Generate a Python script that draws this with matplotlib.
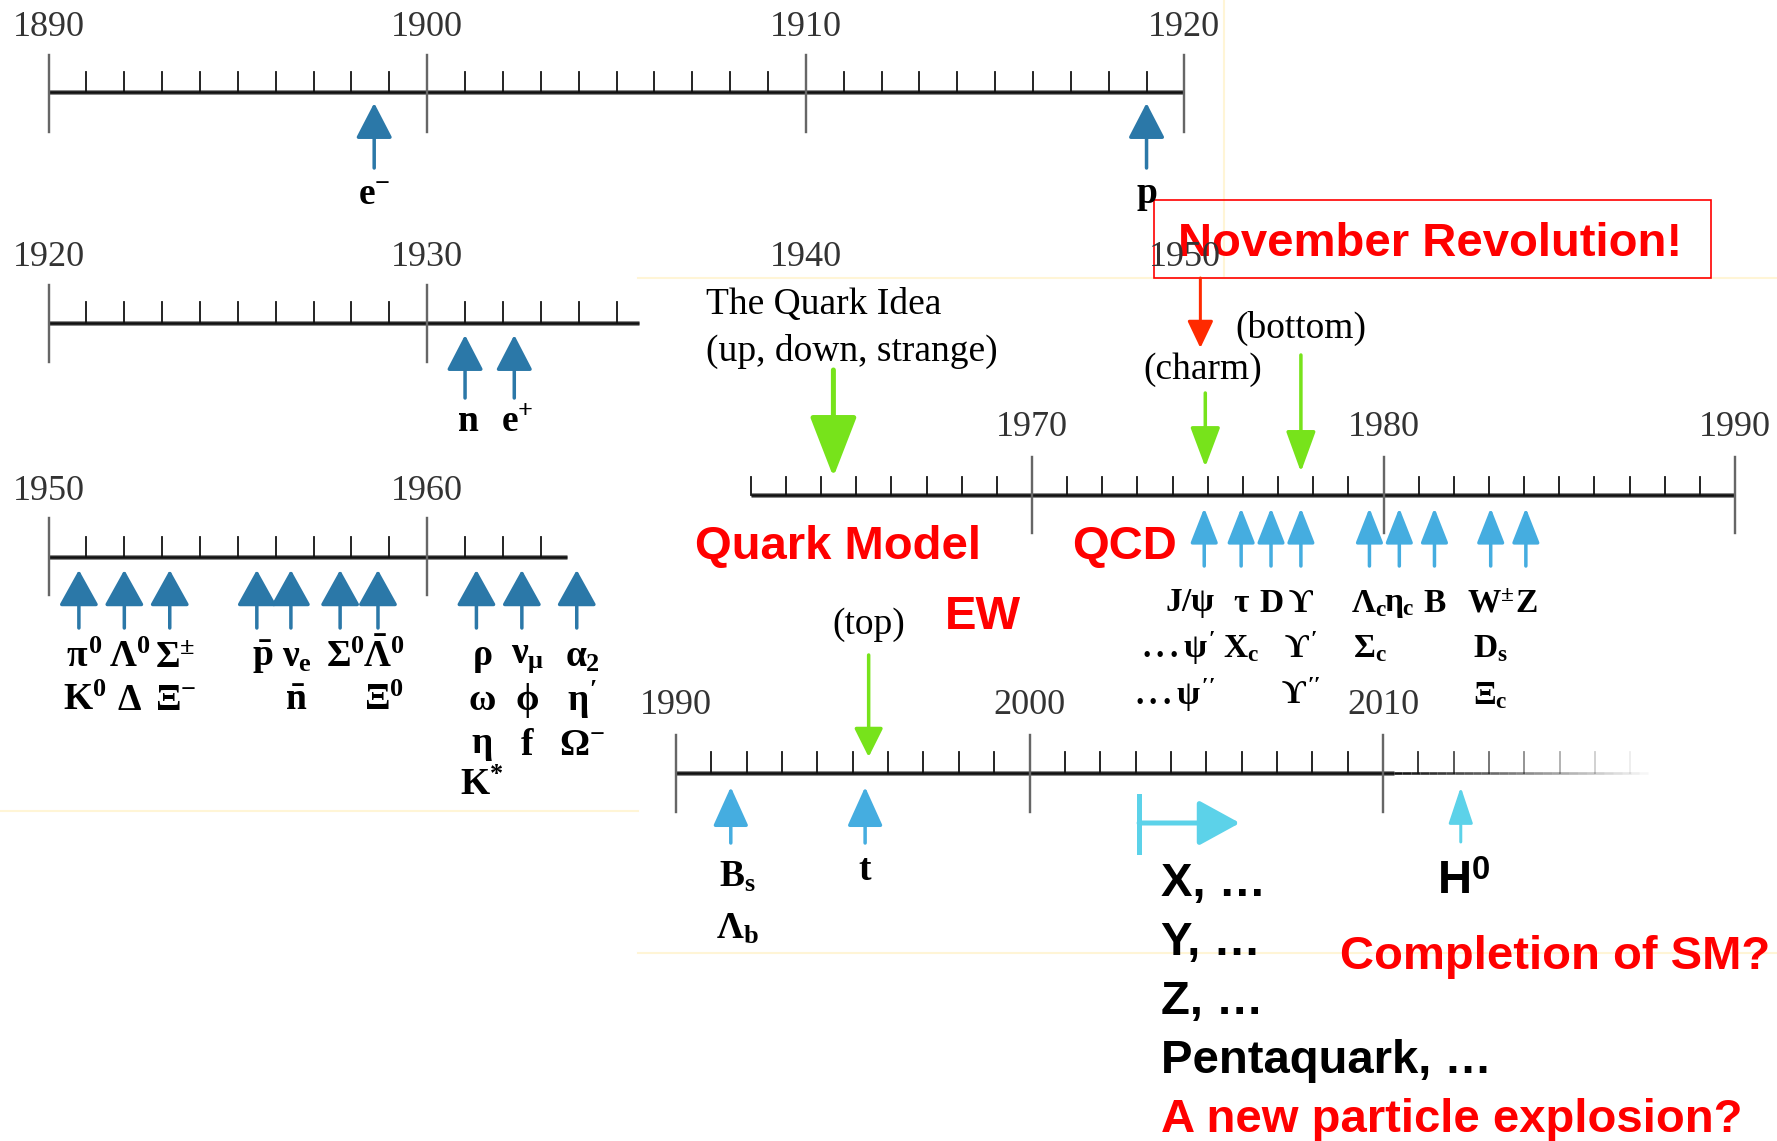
import matplotlib
matplotlib.use('Agg')
import matplotlib.pyplot as plt
import numpy as np
from matplotlib.patches import Rectangle

W, H = 1777, 1141

plt.rcParams['mathtext.fontset'] = 'custom'
plt.rcParams['mathtext.rm'] = 'Liberation Serif:bold'
plt.rcParams['mathtext.it'] = 'Liberation Serif:bold'
plt.rcParams['mathtext.bf'] = 'Liberation Serif:bold'
plt.rcParams['mathtext.sf'] = 'Liberation Sans:bold'
plt.rcParams['mathtext.fallback'] = 'stix'

# ---- data: discovery years ----
t1_years = [1898.6, 1919.0]
t1_names = [[r'$\mathrm{e}^{-}$'], [r'$\mathrm{p}$']]

t2_years = [1931.0, 1932.3]
t2_names = [[r'$\mathrm{n}$'], [r'$\mathrm{e}^{+}$']]

t3_years = [1950.8, 1952.0, 1953.2, 1955.5, 1956.4, 1957.7, 1958.7, 1961.3, 1962.5, 1963.95]
t3_names = [[r'$\pi^0$', r'$\mathrm{K}^0$'],
            [r'$\Lambda^0$', r'$\Delta$'],
            [r'$\Sigma^{\pm}$', r'$\Xi^{-}$'],
            [r'$\bar{\mathrm{p}}$'],
            [r'$\nu_e$', r'$\bar{\mathrm{n}}$'],
            [r'$\Sigma^0$'],
            [r'$\bar{\Lambda}^0$', r'$\Xi^0$'],
            [r'$\rho$', r'$\omega$', r'$\eta$', r'$\mathrm{K}^{*}$'],
            [r'$\nu_{\mu}$', r'$\phi$', r'$\mathrm{f}$'],
            [r'$\alpha_2$', r"$\eta'$", r'$\Omega^{-}$']]

t4_years = [1974.9, 1975.95, 1976.8, 1977.65, 1979.6, 1980.45, 1981.45, 1983.05, 1984.05]
t4_names = [[r'$\mathrm{J}/\psi$', r"$...\psi'$", r"$...\psi''$"],
            [r'$\tau$', r'$\mathrm{X}_c$'],
            [r'$\mathrm{D}$'],
            [r'$ϒ$', r"$ϒ'$", r"$ϒ''$"],
            [r'$\Lambda_c$', r'$\Sigma_c$'],
            [r'$\eta_c$'],
            [r'$\mathrm{B}$'],
            [r'$\mathrm{W}^{\pm}$', r'$\mathrm{D}_s$', r'$\Xi_c$'],
            [r'$\mathrm{Z}$']]

quark_years = [1964.35, 1974.93, 1977.65]
quark_names = ['The Quark Idea\n(up, down, strange)', '(charm)', '(bottom)']

t5_years = [1991.55, 1995.35]
t5_names = [[r'$\mathrm{B}_s$', r'$\Lambda_b$'], [r'$\mathrm{t}$']]
top_year = 1995.45
higgs_year = 2012.2
exotic_year = 2003.1
exotic_names = ['X, …', 'Y, …', 'Z, …', 'Pentaquark, …']

# ---- styles ----
OLD_BLUE = '#2B78A8'
NEW_BLUE = '#45ADE0'
CYAN = '#5CD2E9'
GREEN = '#77E31B'
RED = '#FF0000'
SERIF = 'Liberation Serif'
SANS = 'Liberation Sans'
PT = 0.72  # points per pixel at dpi 100

fig = plt.figure(figsize=(W / 100, H / 100), dpi=100)
bg = fig.add_axes([0, 0, 1, 1])
bg.set_xlim(0, W)
bg.set_ylim(H, 0)
bg.axis('off')

# faint slide panel edges
pc = '#FFF5D6'
bg.plot([0, 638], [811, 811], color=pc, lw=1.5)
bg.plot([638, W], [278, 278], color=pc, lw=1.5)
bg.plot([638, W], [953, 953], color=pc, lw=1.5)
bg.plot([1224, 1224], [0, 278], color=pc, lw=1.5)


def timeline_axes(px0, px1, yr0, yr1):
    ax = fig.add_axes([px0 / W, 0, (px1 - px0) / W, 1])
    ax.set_xlim(yr0, yr1)
    ax.set_ylim(H, 0)
    ax.axis('off')
    ax.patch.set_visible(False)
    return ax


def draw_axis(ax, start, end, y, maj_top, maj_bot, min_top, majors, label_y, fade_from=None):
    stop = end if fade_from is None else fade_from
    ax.plot([start, stop], [y, y], color='#888', lw=5 * PT, clip_on=False, solid_capstyle='butt')
    ax.plot([start, stop], [y, y], color='#111', lw=2.6 * PT, clip_on=False, solid_capstyle='butt')
    minors = [v for v in range(int(np.ceil(start)), int(np.floor(end)) + 1) if v % 10]
    for v in minors:
        a = 1.0
        if fade_from is not None and v > fade_from:
            a = max(0.08, 1 - (v - fade_from) / (end - fade_from))
        ax.plot([v, v], [min_top, y], color='#111', lw=1.8 * PT, alpha=a, clip_on=False)
    if fade_from is not None:
        segs = np.linspace(fade_from, end, 30)
        for i in range(len(segs) - 1):
            a = 1 - i / (len(segs) - 1)
            ax.plot(segs[i:i + 2], [y, y], color='#111', lw=2.6 * PT, alpha=a,
                    clip_on=False, solid_capstyle='butt')
    for m in majors:
        ax.plot([m, m], [maj_top, maj_bot], color='#666', lw=2.4 * PT, clip_on=False)
        col = '#999' if (fade_from is not None and m >= fade_from) else '#333'
        ax.text(m, label_y, str(m), ha='center', va='center', fontsize=26,
                family=SERIF, color=col, clip_on=False)


def arrow(ax, x0, y0, x1, y1, color, head_len, head_half, shaft):
    d = np.hypot(head_len, head_half)
    style = f'-|>,head_length={d * PT:.2f},head_width={head_half / head_len * d * PT:.2f}'
    ax.annotate('', xy=(x1, y1), xytext=(x0, y0), annotation_clip=False,
                arrowprops=dict(arrowstyle=style, color=color, lw=shaft * PT,
                                shrinkA=0, shrinkB=0, mutation_scale=1))


def labels(ax, x, names, rows, size=27, dx=0, ha='center'):
    for name, ry in zip(names, rows):
        ax.annotate(name, xy=(x, ry), xytext=(dx, 0), textcoords='offset points',
                    ha=ha, va='center', fontsize=size, annotation_clip=False)


# ---- timeline 1890-1920 ----
ax1 = timeline_axes(48.6, 1184.4, 1890, 1920)
draw_axis(ax1, 1890, 1920, 92, 55, 132, 72, [1890, 1900, 1910, 1920], 28)
for yr, nm in zip(t1_years, t1_names):
    arrow(ax1, yr, 168, yr, 103, OLD_BLUE, 27, 14, 3.5)
    labels(ax1, yr, nm, [195])

# ---- timeline 1920-1935 ----
ax2 = timeline_axes(48.6, 1184.4, 1920, 1950)
draw_axis(ax2, 1920, 1935.6, 323, 285, 362, 302, [1920, 1930], 258)
for m in [1940, 1950]:
    ax2.text(m, 258, str(m), ha='center', va='center', fontsize=26, family=SERIF,
             color='#333', zorder=1)
for yr, nm in zip(t2_years, t2_names):
    arrow(ax2, yr, 398, yr, 335, OLD_BLUE, 27, 14, 3.5)
    labels(ax2, yr, nm, [421], dx=2)

# ---- timeline 1950-1963 ----
ax3 = timeline_axes(48.6, 1184.4, 1950, 1980)
draw_axis(ax3, 1950, 1963.7, 557, 518, 595, 537, [1950, 1960], 492)
for yr, nm in zip(t3_years, t3_names):
    arrow(ax3, yr, 628, yr, 570, OLD_BLUE, 27, 15, 3.5)
    labels(ax3, yr, nm, [657, 700, 745, 785], dx=4)

# ---- timeline 1962-1990 ----
ax4 = timeline_axes(680.5, 1735, 1960, 1990)
draw_axis(ax4, 1962, 1990, 495, 457, 533, 477, [1970, 1980, 1990], 428)
for i, (yr, nm) in enumerate(zip(t4_years, t4_names)):
    arrow(ax4, yr, 566, yr, 508, NEW_BLUE, 28, 11, 3.5)
    if i == 0:
        labels(ax4, yr, nm, [603, 648, 695], size=24, dx=8, ha='right')
    else:
        labels(ax4, yr, nm, [603, 648, 695], size=24)

# quark ideas (green, pointing down)
arrow(ax4, quark_years[0], 370, quark_years[0], 477, GREEN, 49, 19, 5)
arrow(ax4, quark_years[1], 393, quark_years[1], 467, GREEN, 32, 12, 3.5)
arrow(ax4, quark_years[2], 355, quark_years[2], 472, GREEN, 33, 12, 3.5)
ax4.annotate(quark_names[0], xy=(quark_years[0], 328), xytext=(-92, 0),
             textcoords='offset points', ha='left', va='center', fontsize=27,
             family=SERIF, linespacing=1.45, annotation_clip=False)
ax4.annotate(quark_names[1], xy=(quark_years[1], 370), xytext=(-2, 0),
             textcoords='offset points', ha='center', va='center', fontsize=27,
             family=SERIF, annotation_clip=False)
ax4.annotate(quark_names[2], xy=(quark_years[2], 328), ha='center', va='center',
             fontsize=27, family=SERIF, annotation_clip=False)

# November Revolution
bg.add_patch(Rectangle((1154, 200), 557, 78, fill=False, edgecolor=RED, lw=1.2, zorder=5))
bg.text(1430, 244, 'November Revolution!', ha='center', va='center', fontsize=34,
        family=SANS, weight='bold', color=RED, zorder=6)
arrow(ax4, quark_years[1] - 0.14, 278, quark_years[1] - 0.14, 348, '#FF2A00', 21, 10, 3)

bg.text(695, 547, 'Quark Model', ha='left', va='center', fontsize=34, family=SANS,
        weight='bold', color=RED)
bg.text(1072, 547, 'QCD', ha='left', va='center', fontsize=34, family=SANS,
        weight='bold', color=RED)
bg.text(945, 617, 'EW', ha='left', va='center', fontsize=34, family=SANS,
        weight='bold', color=RED)

# ---- timeline 1990-2017 ----
ax5 = timeline_axes(676, 1383, 1990, 2010)
draw_axis(ax5, 1990, 2017.5, 773, 735, 812, 752, [1990, 2000, 2010], 706, fade_from=2010.3)
arrow(ax5, top_year, 655, top_year, 757, GREEN, 22, 11, 3.5)
ax5.text(top_year, 625, '(top)', ha='center', va='center', fontsize=27, family=SERIF)
for yr, nm in zip(t5_years, t5_names):
    arrow(ax5, yr, 843, yr, 787, NEW_BLUE, 31, 14, 3.5)
labels(ax5, t5_years[0], t5_names[0], [877, 929], dx=5)
labels(ax5, t5_years[1], t5_names[1], [870])

arrow(ax5, higgs_year, 842, higgs_year, 787, CYAN, 30, 10, 3)
ax5.annotate(r'$\mathsf{H}^{\mathsf{0}}$', xy=(higgs_year, 882), xytext=(2, 0),
             textcoords='offset points', ha='center', va='center', fontsize=34,
             annotation_clip=False)

ax5.plot([exotic_year, exotic_year], [796, 852], color=CYAN, lw=5 * PT, clip_on=False)
arrow(ax5, exotic_year, 823, exotic_year + 2.85, 823, CYAN, 31, 17, 5)

for i, nm in enumerate(exotic_names):
    bg.text(1161, 884 + 59 * i, nm, ha='left', va='center', fontsize=34,
            family=SANS, weight='bold', color='black')
bg.text(1161, 1120, 'A new particle explosion?', ha='left', va='center', fontsize=34,
        family=SANS, weight='bold', color=RED)
bg.text(1340, 957, 'Completion of SM?', ha='left', va='center', fontsize=34,
        family=SANS, weight='bold', color=RED)

fig.savefig('out.png', dpi=100)
